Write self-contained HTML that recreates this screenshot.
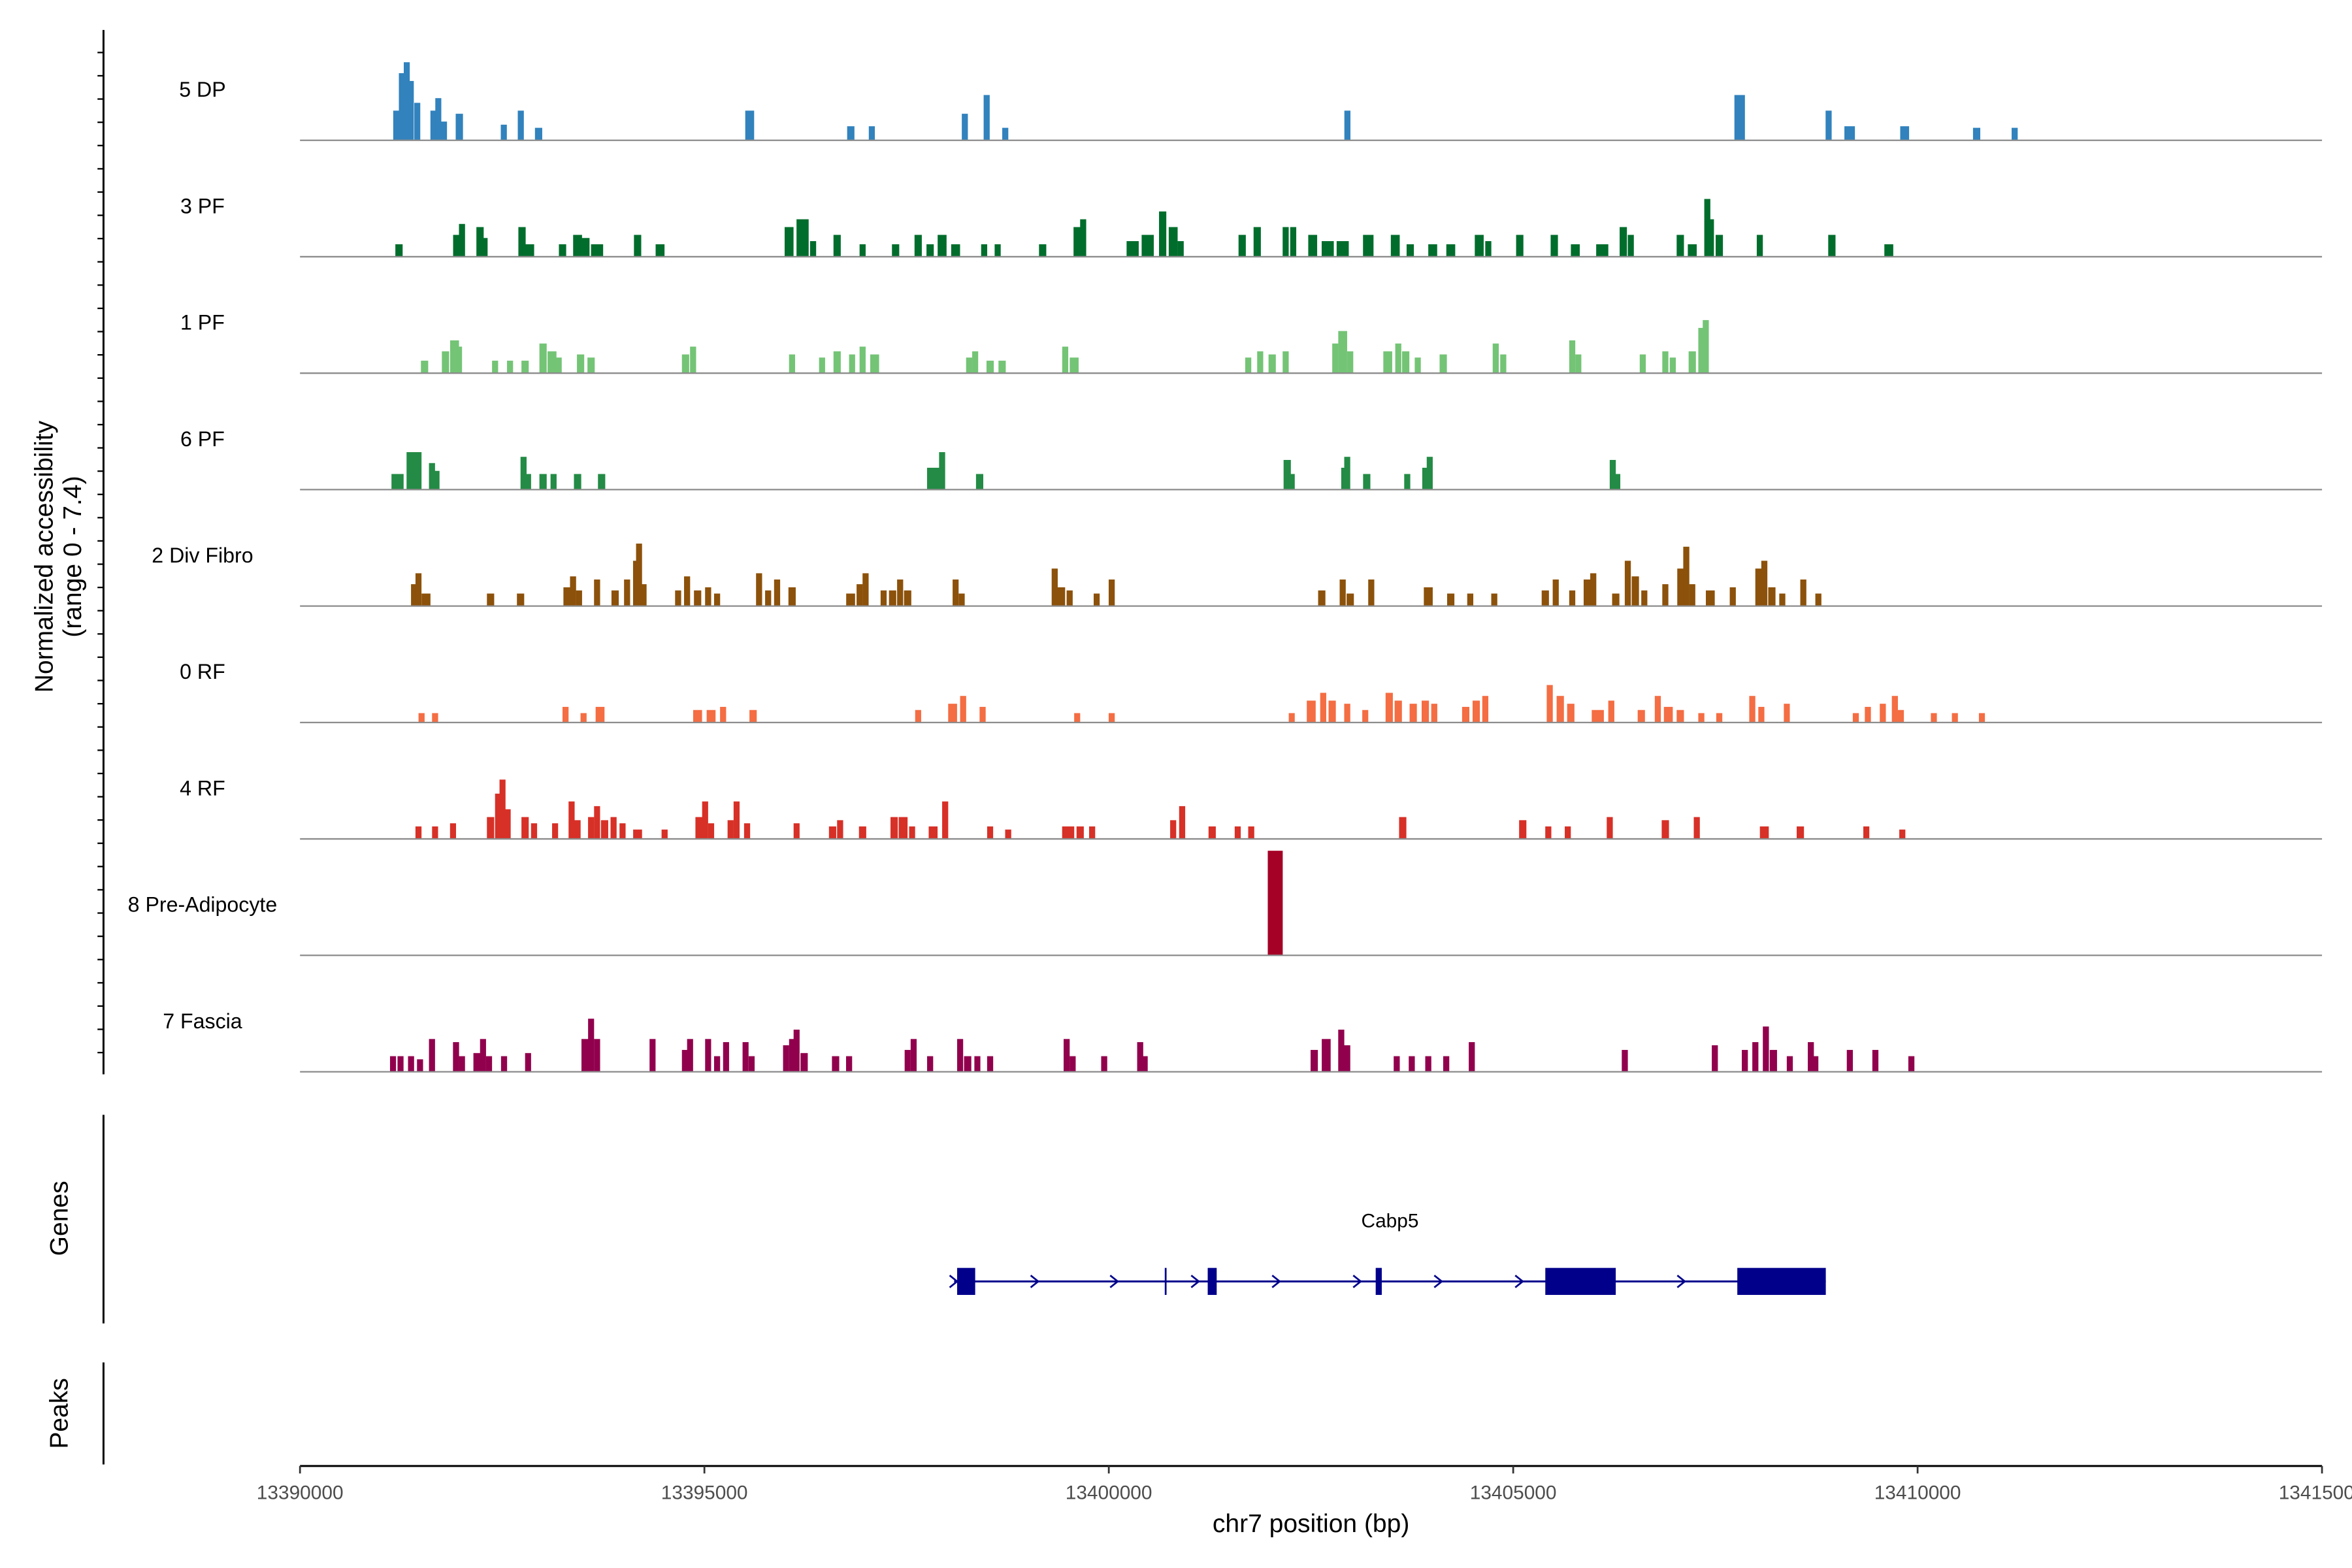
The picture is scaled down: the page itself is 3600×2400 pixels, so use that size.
<!DOCTYPE html>
<html><head><meta charset="utf-8"><style>
html,body{margin:0;padding:0;background:#fff;}
svg{display:block;font-family:"Liberation Sans",Arial,sans-serif;}
</style></head><body>
<svg id="chart" width="3600" height="2400" viewBox="0 0 1568 1045" preserveAspectRatio="none" xmlns="http://www.w3.org/2000/svg">
<rect x="0" y="0" width="1568" height="1045" fill="#fff"/>
<g id="tracks"></g>
<g id="genes"></g>
<g id="axes"></g>
</svg>
<script>
// ---- data (offsets in bp from region start, width in bp, normalized value) ----
const regionStart = 13390000;
const regionEnd = 13415000;
const xTickValues = [13390000, 13395000, 13400000, 13405000, 13410000, 13415000];
const xTickLabels = ["13390000","13395000","13400000","13405000","13410000","13415000"];
const trackNames = ["5 DP","3 PF","1 PF","6 PF","2 Div Fibro","0 RF","4 RF","8 Pre-Adipocyte","7 Fascia"];
const trackColors = ["#3182bd","#006d2c","#74c476","#238b45","#8c510a","#f46d43","#d73027","#a50026","#91004d"];
const yMax = 7.4;

const peaksDP = [[1190,75,1.9],[1260,75,4.3],[1320,55,5.0],[1370,55,3.8],[1450,55,2.4],[1650,75,1.9],[1710,55,2.7],[1780,75,1.2],[1970,90,1.7],[2520,75,1.0],[2730,75,1.9],[2950,90,0.8],[5560,110,1.9],[6810,90,0.9],[7070,75,0.9],[8220,75,1.7],[8490,75,2.9],[8720,75,0.8],[12950,75,1.9],[17800,130,2.9],[18900,75,1.9],[19160,130,0.9],[19840,110,0.9],[20730,90,0.8],[21200,75,0.8]];
const peaks3PF = [[1224,90,0.8],[1948,110,1.4],[2003,75,2.1],[2226,90,1.9],[2282,75,1.2],[2745,90,1.9],[2820,150,0.8],[3246,90,0.8],[3432,110,1.4],[3525,110,1.2],[3673,150,0.8],[4174,90,1.4],[4452,110,0.8],[6047,110,1.9],[6214,150,2.4],[6344,75,1.0],[6641,90,1.4],[6956,75,0.8],[7364,90,0.8],[7643,90,1.4],[7791,90,0.8],[7939,110,1.4],[8106,110,0.8],[8459,75,0.8],[8626,75,0.8],[9182,90,0.8],[9609,90,1.9],[9683,75,2.4],[10295,150,1.0],[10481,150,1.4],[10666,90,2.9],[10796,110,1.9],[10889,75,1.0],[11649,90,1.4],[11835,90,1.9],[12187,75,1.9],[12280,75,1.9],[12521,110,1.4],[12707,150,1.0],[12892,150,1.0],[13208,130,1.4],[13542,110,1.4],[13727,90,0.8],[14005,110,0.8],[14228,110,0.8],[14580,110,1.4],[14692,75,1.0],[15081,90,1.4],[15508,90,1.4],[15768,110,0.8],[16101,150,0.8],[16361,90,1.9],[16454,75,1.4],[17066,90,1.4],[17214,110,0.8],[17400,75,3.7],[17437,90,2.4],[17548,90,1.4],[18049,75,1.4],[18940,90,1.4],[19644,110,0.8]];
const peaks1PF = [[1540,90,0.8],[1799,90,1.4],[1911,110,2.1],[1966,75,1.7],[2412,75,0.8],[2597,75,0.8],[2783,90,0.8],[3005,90,1.9],[3116,110,1.4],[3191,90,1.0],[3469,90,1.2],[3599,90,1.0],[4767,90,1.2],[4860,75,1.7],[6084,75,1.2],[6455,75,1.0],[6641,90,1.4],[6826,75,1.2],[6956,75,1.7],[7105,110,1.2],[8273,75,1.0],[8348,55,1.4],[8533,90,0.8],[8681,90,0.8],[9461,75,1.7],[9572,110,1.0],[11724,75,1.0],[11872,75,1.4],[12020,90,1.2],[12187,75,1.4],[12800,75,1.9],[12892,110,2.7],[12985,75,1.4],[13449,110,1.4],[13579,75,1.9],[13671,90,1.4],[13820,75,1.0],[14135,90,1.2],[14784,75,1.9],[14877,75,1.2],[15730,75,2.1],[15805,75,1.2],[16602,75,1.2],[16881,75,1.4],[16973,75,1.0],[17214,90,1.4],[17326,75,2.9],[17381,75,3.4]];
const peaks6PF = [[1206,150,1.0],[1410,185,2.4],[1632,75,1.7],[1688,55,1.2],[2764,75,2.1],[2820,55,1.0],[3005,90,1.0],[3135,75,1.0],[3432,90,1.0],[3729,90,1.0],[7828,150,1.4],[7939,75,2.4],[8403,90,1.0],[12206,90,1.9],[12262,55,1.0],[12911,75,1.4],[12948,55,2.1],[13189,90,1.0],[13690,75,1.0],[13913,75,1.4],[13968,55,2.1],[16231,75,1.9],[16287,55,1.0]];
const peaksDivFibro = [[1410,75,1.4],[1465,55,2.1],[1558,110,0.8],[2356,90,0.8],[2727,90,0.8],[3302,90,1.2],[3376,75,1.9],[3450,75,1.0],[3673,75,1.7],[3896,90,1.0],[4044,75,1.7],[4155,55,2.9],[4192,55,4.0],[4248,55,1.4],[4675,75,1.0],[4786,75,1.9],[4916,90,1.0],[5046,75,1.2],[5157,75,0.8],[5676,75,2.1],[5788,75,1.0],[5899,75,1.7],[6084,90,1.2],[6808,110,0.8],[6919,75,1.4],[6993,75,2.1],[7216,75,1.0],[7327,90,1.0],[7420,75,1.7],[7513,90,1.0],[8106,55,1.7],[8181,75,0.8],[9331,75,2.4],[9405,110,1.2],[9516,75,1.0],[9850,55,0.8],[10036,75,1.7],[12633,90,1.0],[12892,75,1.7],[12985,90,0.8],[13245,75,1.7],[13950,110,1.2],[14228,90,0.8],[14469,75,0.8],[14766,75,0.8],[15397,90,1.0],[15526,75,1.7],[15730,75,1.0],[15916,90,1.7],[15990,75,2.1],[16268,90,0.8],[16417,75,2.9],[16510,90,1.9],[16621,75,1.0],[16881,75,1.4],[17066,75,2.4],[17140,75,3.8],[17214,75,1.4],[17437,110,1.0],[17715,75,1.2],[18031,75,2.4],[18105,75,2.9],[18198,90,1.2],[18327,75,0.8],[18587,75,1.7],[18773,75,0.8]];
const peaks0RF = [[1503,75,0.6],[1670,75,0.6],[3283,75,1.0],[3506,75,0.6],[3710,110,1.0],[4916,110,0.8],[5083,110,0.8],[5231,75,1.0],[5602,90,0.8],[7643,55,0.8],[8069,110,1.2],[8199,75,1.7],[8440,75,1.0],[9609,55,0.6],[10036,75,0.6],[12262,55,0.6],[12503,110,1.4],[12651,75,1.9],[12762,90,1.4],[12948,75,1.2],[13171,55,0.8],[13467,90,1.9],[13579,90,1.4],[13764,90,1.2],[13913,90,1.4],[14024,75,1.2],[14413,90,1.0],[14543,90,1.4],[14655,75,1.7],[15452,75,2.4],[15582,90,1.7],[15712,90,1.2],[16046,150,0.8],[16213,75,1.4],[16584,90,0.8],[16788,75,1.7],[16918,110,1.0],[17066,90,0.8],[17326,75,0.6],[17548,75,0.6],[17956,75,1.7],[18068,75,1.0],[18383,55,1.2],[19236,75,0.6],[19385,75,1.0],[19570,75,1.2],[19719,75,1.7],[19793,75,0.8],[20201,55,0.6],[20461,55,0.6],[20795,55,0.6]];
const peaks4RF = [[1465,75,0.8],[1670,55,0.8],[1892,55,1.0],[2356,90,1.4],[2449,75,2.9],[2504,55,3.8],[2560,90,1.9],[2783,90,1.4],[2894,75,1.0],[3154,55,1.0],[3358,75,2.4],[3432,75,1.2],[3599,75,1.4],[3673,55,2.1],[3766,90,1.2],[3877,75,1.4],[3988,75,1.0],[4174,110,0.6],[4508,75,0.6],[4934,90,1.4],[5009,55,2.4],[5083,75,1.0],[5324,75,1.2],[5398,55,2.4],[5528,75,1.0],[6140,55,1.0],[6585,90,0.8],[6678,75,1.2],[6956,90,0.8],[7346,90,1.4],[7457,110,1.4],[7568,55,0.8],[7828,110,0.8],[7977,75,2.4],[8533,55,0.8],[8756,75,0.6],[9498,150,0.8],[9646,90,0.8],[9794,75,0.8],[10796,75,1.2],[10907,75,2.1],[11278,90,0.8],[11594,75,0.8],[11761,75,0.8],[13634,90,1.4],[15118,90,1.2],[15434,75,0.8],[15675,75,0.8],[16194,75,1.4],[16881,90,1.2],[17270,75,1.4],[18105,110,0.8],[18550,90,0.8],[19366,55,0.8],[19811,75,0.6]];
const peaksPreAdipocyte = [[12058,185,6.7]];
const peaksFascia = [[1150,55,1.0],[1243,55,1.0],[1373,75,1.0],[1484,75,0.8],[1632,75,2.1],[1929,75,1.9],[2003,55,1.0],[2189,90,1.2],[2263,55,2.1],[2337,75,1.0],[2523,75,1.0],[2820,55,1.2],[3525,90,2.1],[3599,55,3.4],[3673,75,2.1],[4359,55,2.1],[4767,90,1.4],[4823,55,2.1],[5046,55,2.1],[5157,75,1.0],[5268,55,1.9],[5509,55,1.9],[5584,55,1.0],[6010,75,1.7],[6084,55,2.1],[6140,55,2.7],[6233,90,1.2],[6622,90,1.0],[6789,75,1.0],[7513,55,1.4],[7587,55,2.1],[7791,75,1.0],[8162,55,2.1],[8255,90,1.0],[8375,55,1.0],[8533,75,1.0],[9479,75,2.1],[9553,75,1.0],[9943,75,1.0],[10388,75,1.9],[10444,55,1.0],[12540,90,1.4],[12688,110,2.1],[12874,75,2.7],[12948,75,1.7],[13560,75,1.0],[13746,75,1.0],[13950,75,1.0],[14172,75,1.0],[14488,75,1.9],[16380,75,1.4],[17493,75,1.7],[17864,75,1.4],[17994,75,1.9],[18124,75,2.9],[18217,90,1.4],[18420,75,1.0],[18680,75,1.9],[18736,55,1.0],[19162,75,1.4],[19478,75,1.4],[19923,75,1.0]];
const trackPeaks = [peaksDP, peaks3PF, peaks1PF, peaks6PF, peaksDivFibro, peaks0RF, peaks4RF, peaksPreAdipocyte, peaksFascia];

const geneName = "Cabp5";
const geneSpan = [8088, 18865];
const geneExons = [[8125,8348],[11223,11334],[13300,13375],[15397,16268],[17771,18865]];
const geneArrows = [8088, 9090, 10073, 11075, 12076, 13078, 14080, 15081, 17085];
const geneTick = 10703;

// ---- layout ----
const NS = "http://www.w3.org/2000/svg";
const plotLeft = 200, plotRight = 1548;
const firstBaseline = 93.5, trackStep = 77.6, trackHeight = 77;
function xScale(bp){ return plotLeft + (bp - regionStart) / (regionEnd - regionStart) * (plotRight - plotLeft); }
function xOff(off){ return xScale(regionStart + off); }
function yScale(v, base){ return base - Math.min(v, yMax) / yMax * trackHeight; }
function mk(tag, attrs, parent){ const e = document.createElementNS(NS, tag); for (const k in attrs) e.setAttribute(k, attrs[k]); parent.appendChild(e); return e; }

const tracksG = document.getElementById("tracks");
trackNames.forEach((name, i) => {
  const base = firstBaseline + i * trackStep;
  const g = mk("g", {}, tracksG);
  
  
  const lbl = mk("text", {x: 135, y: base - 29, "text-anchor": "middle", "font-size": 14, fill: "#000"}, g);
  lbl.textContent = name;
  
  
  trackPeaks[i].forEach(p => {
    const cx = xOff(p[0]);
    const w = Math.max(xOff(p[0] + p[1] / 2) - xOff(p[0] - p[1] / 2), 4);
    const yt = yScale(p[2], base);
    const r = mk("rect", {x: cx - w / 2, y: yt, width: w, height: base - yt, fill: trackColors[i]}, g);
    
    
  });
  const bl = mk("line", {x1: plotLeft, x2: plotRight, y1: base, y2: base, stroke: "#8c8c8c", "stroke-width": 1}, g);
  
  
});

// genes
const genesG = document.getElementById("genes");
const gy = 854;
const gl = mk("line", {x1: xOff(geneSpan[0]), x2: xOff(geneSpan[1]), y1: gy, y2: gy, stroke: "#00008b", "stroke-width": 1.3}, genesG);


geneArrows.forEach(a => {
  const x = xOff(a);
  const ar = mk("path", {d: `M${x-3},${gy-4} L${x+2},${gy} L${x-3},${gy+4}`, fill: "none", stroke: "#00008b", "stroke-width": 1.2}, genesG);
  
  
});
const gt = mk("line", {x1: xOff(geneTick), x2: xOff(geneTick), y1: gy - 9, y2: gy + 9, stroke: "#00008b", "stroke-width": 1.2}, genesG);


geneExons.forEach(e => {
  const r = mk("rect", {x: xOff(e[0]), y: gy - 9, width: xOff(e[1]) - xOff(e[0]), height: 18, fill: "#00008b"}, genesG);
  
  
});
const gn = mk("text", {x: xOff((geneSpan[0] + geneSpan[1]) / 2), y: 818, "text-anchor": "middle", "font-size": 13}, genesG);
gn.textContent = geneName;



// axes
const axG = document.getElementById("axes");
const ya = mk("line", {x1: 69, x2: 69, y1: 20, y2: 716, stroke: "#000", "stroke-width": 1.3}, axG);


for (let y = 35; y <= 716; y += 15.5) {
  const t = mk("line", {x1: 65, x2: 69, y1: y, y2: y, stroke: "#000", "stroke-width": 1}, axG);
  
  
}
const yt1 = mk("text", {transform: "translate(35,371) rotate(-90)", "text-anchor": "middle", "font-size": 17}, axG);
yt1.textContent = "Normalized accessibility";


const yt2 = mk("text", {transform: "translate(54,371) rotate(-90)", "text-anchor": "middle", "font-size": 17}, axG);
yt2.textContent = "(range 0 - 7.4)";



const ga = mk("line", {x1: 69, x2: 69, y1: 743, y2: 882, stroke: "#000", "stroke-width": 1.3}, axG);


const gtl = mk("text", {transform: "translate(45,812) rotate(-90)", "text-anchor": "middle", "font-size": 17}, axG);
gtl.textContent = "Genes";


const pa = mk("line", {x1: 69, x2: 69, y1: 908, y2: 976, stroke: "#000", "stroke-width": 1.3}, axG);


const ptl = mk("text", {transform: "translate(45,942) rotate(-90)", "text-anchor": "middle", "font-size": 17}, axG);
ptl.textContent = "Peaks";



const xa = mk("line", {x1: plotLeft, x2: plotRight, y1: 977, y2: 977, stroke: "#000", "stroke-width": 1.3}, axG);


xTickValues.forEach((v, i) => {
  const x = xScale(v);
  const t = mk("line", {x1: x, x2: x, y1: 977, y2: 982, stroke: "#333", "stroke-width": 1.2}, axG);
  
  
  const l = mk("text", {x: x, y: 999, "text-anchor": "middle", "font-size": 13, fill: "#4d4d4d"}, axG);
  l.textContent = xTickLabels[i];
  
  
});
const xt = mk("text", {x: 874, y: 1021, "text-anchor": "middle", "font-size": 17}, axG);
xt.textContent = "chr7 position (bp)";


</script>
</body></html>
